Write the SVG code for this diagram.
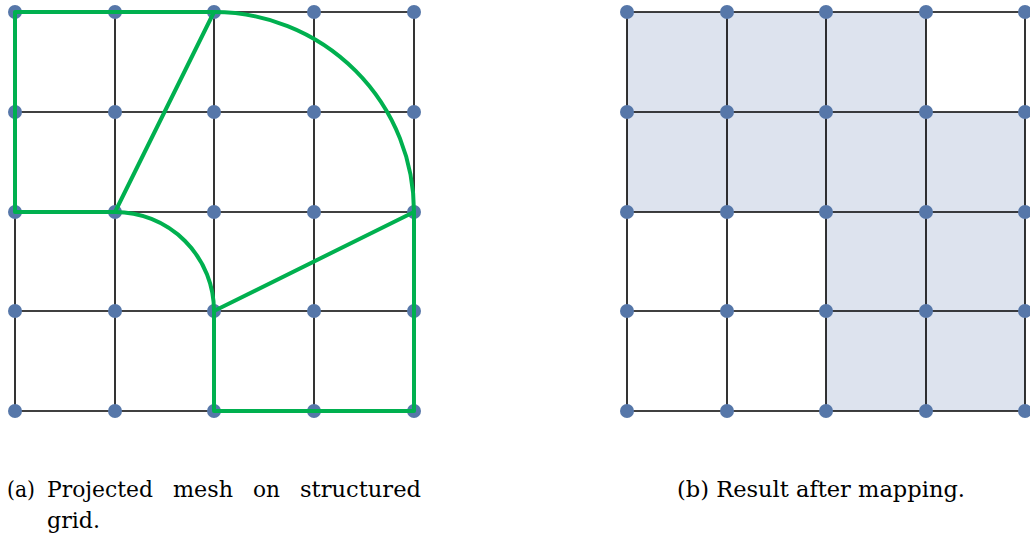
<svg xmlns="http://www.w3.org/2000/svg" width="1030" height="539" viewBox="0 0 1030 539">
<style>
.grid line{stroke:#000;stroke-width:1.6}
.dot{fill:#5677a9}
.cell{fill:#dde3ee}
.mesh{fill:none;stroke:#00b04f;stroke-width:4;stroke-linejoin:round;stroke-linecap:round}
text{font-family:"DejaVu Serif","Liberation Serif",serif;font-size:23px;fill:#000}
</style>
<defs>
<circle id="d" r="7" class="dot"/>
</defs>
<rect width="1030" height="539" fill="#fff"/>
<!-- Panel (a) -->
<g id="panel-a">
<g class="grid">
<line x1="15" y1="12" x2="414" y2="12"/><line x1="15" y1="112" x2="414" y2="112"/><line x1="15" y1="212" x2="414" y2="212"/><line x1="15" y1="311" x2="414" y2="311"/><line x1="15" y1="411" x2="414" y2="411"/>
<line x1="15" y1="12" x2="15" y2="411"/><line x1="115" y1="12" x2="115" y2="411"/><line x1="214" y1="12" x2="214" y2="411"/><line x1="314" y1="12" x2="314" y2="411"/><line x1="414" y1="12" x2="414" y2="411"/>
</g>
<g id="dots-a">
<use href="#d" x="15" y="12"/><use href="#d" x="115" y="12"/><use href="#d" x="214" y="12"/><use href="#d" x="314" y="12"/><use href="#d" x="414" y="12"/>
<use href="#d" x="15" y="112"/><use href="#d" x="115" y="112"/><use href="#d" x="214" y="112"/><use href="#d" x="314" y="112"/><use href="#d" x="414" y="112"/>
<use href="#d" x="15" y="212"/><use href="#d" x="115" y="212"/><use href="#d" x="214" y="212"/><use href="#d" x="314" y="212"/><use href="#d" x="414" y="212"/>
<use href="#d" x="15" y="311"/><use href="#d" x="115" y="311"/><use href="#d" x="214" y="311"/><use href="#d" x="314" y="311"/><use href="#d" x="414" y="311"/>
<use href="#d" x="15" y="411"/><use href="#d" x="115" y="411"/><use href="#d" x="214" y="411"/><use href="#d" x="314" y="411"/><use href="#d" x="414" y="411"/>
</g>
<g id="mesh">
<path class="mesh" d="M15,12 L214,12 A200,200 0 0 1 414,212 L414,411 L214,411 L214,311 A99,99 0 0 0 115,212 L15,212 Z"/>
<path class="mesh" d="M214,12 L115,212 M214,311 L414,212"/>
</g>
<g id="caption-a">
<text x="7" y="497" textLength="28" lengthAdjust="spacingAndGlyphs">(a)</text>
<text x="47" y="497" textLength="106" lengthAdjust="spacingAndGlyphs">Projected</text>
<text x="173" y="497" textLength="60" lengthAdjust="spacingAndGlyphs">mesh</text>
<text x="253" y="497" textLength="27" lengthAdjust="spacingAndGlyphs">on</text>
<text x="300" y="497" textLength="121" lengthAdjust="spacingAndGlyphs">structured</text>
<text x="47" y="528" textLength="53" lengthAdjust="spacingAndGlyphs">grid.</text>
</g>
</g>
<!-- Panel (b) -->
<g id="panel-b">
<g id="cells">
<rect class="cell" x="627" y="12" width="299" height="100"/>
<rect class="cell" x="627" y="112" width="398" height="100"/>
<rect class="cell" x="826" y="212" width="199" height="199"/>
</g>
<g class="grid">
<line x1="627" y1="12" x2="1025" y2="12"/><line x1="627" y1="112" x2="1025" y2="112"/><line x1="627" y1="212" x2="1025" y2="212"/><line x1="627" y1="311" x2="1025" y2="311"/><line x1="627" y1="411" x2="1025" y2="411"/>
<line x1="627" y1="12" x2="627" y2="411"/><line x1="727" y1="12" x2="727" y2="411"/><line x1="826" y1="12" x2="826" y2="411"/><line x1="926" y1="12" x2="926" y2="411"/><line x1="1025" y1="12" x2="1025" y2="411"/>
</g>
<g id="dots-b">
<use href="#d" x="627" y="12"/><use href="#d" x="727" y="12"/><use href="#d" x="826" y="12"/><use href="#d" x="926" y="12"/><use href="#d" x="1025" y="12"/>
<use href="#d" x="627" y="112"/><use href="#d" x="727" y="112"/><use href="#d" x="826" y="112"/><use href="#d" x="926" y="112"/><use href="#d" x="1025" y="112"/>
<use href="#d" x="627" y="212"/><use href="#d" x="727" y="212"/><use href="#d" x="826" y="212"/><use href="#d" x="926" y="212"/><use href="#d" x="1025" y="212"/>
<use href="#d" x="627" y="311"/><use href="#d" x="727" y="311"/><use href="#d" x="826" y="311"/><use href="#d" x="926" y="311"/><use href="#d" x="1025" y="311"/>
<use href="#d" x="627" y="411"/><use href="#d" x="727" y="411"/><use href="#d" x="826" y="411"/><use href="#d" x="926" y="411"/><use href="#d" x="1025" y="411"/>
</g>
<g id="caption-b">
<text x="677" y="497" textLength="288" lengthAdjust="spacingAndGlyphs">(b) Result after mapping.</text>
</g>
</g>
</svg>
